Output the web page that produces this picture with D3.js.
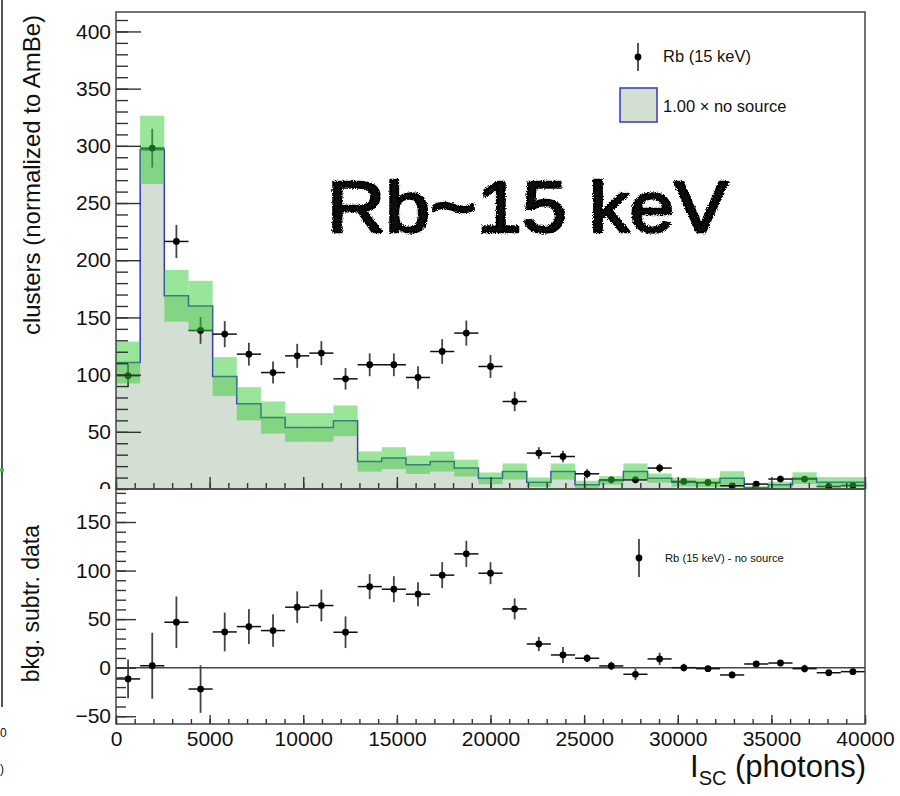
<!DOCTYPE html>
<html>
<head>
<meta charset="utf-8">
<script src="https://cdn.jsdelivr.net/npm/d3@7"></script>
<style>
  body { margin: 0; background: #fff; }
  text { font-family: "Liberation Sans", Arial, Helvetica, sans-serif; fill: #111; }
</style>
</head>
<body>
<div id="chart"></div>
<script>
// binning of I_SC (photons)
const xMin = 0, xMax = 40000, nBins = 31;

// no-source background (normalized), one value per bin, and half-width of its band
const bkg = [110.6, 296.5, 168.9, 160, 98.3, 74.5, 62.5, 53.8, 53.8, 59.6, 24, 27, 21.2, 24, 18.3,
             9.3, 15.3, 6, 15.3, 3.7, 7.5, 15.3, 9.5, 6, 5.5, 9.5, 1, 3.7, 9.5, 6, 6];
const bkgErr = [18.3, 29.8, 22.6, 22, 17, 14.5, 14, 12.5, 12.5, 13.4, 8.8, 9.5, 8, 8.7, 7.3,
                5.1, 7, 4.1, 7, 3.5, 3.7, 7, 4, 3.9, 3.8, 6, 1.5, 2.6, 5.1, 4.4, 4.4];

// Rb (15 keV) data
const rb = [99, 298, 216.4, 138.6, 135.4, 117.9, 101.8, 116.4, 118.8, 96.3, 108.6, 108.6, 97.5, 120.2, 136.3,
            107.1, 76.5, 31.4, 28.4, 13.3, 8, 8, 18.3, 6.6, 5.7, 2.8, 4.3, 8.7, 8.7, 2.2, 3];
const rbErr = [10, 17, 14.5, 11.7, 11.4, 10, 9.6, 10.5, 10.5, 9.5, 10, 10, 9.8, 10.8, 11,
               10, 8.5, 5.2, 5, 4, 3, 3, 3.8, 2, 2, 2, 2, 3, 2, 2, 2];

// background-subtracted data
const sub = [-11.6, 2, 46.8, -22, 36.8, 42.3, 38.2, 62.3, 64, 36.5, 83.5, 80.8, 75.7, 95.3, 117.2,
             97.3, 60.5, 24.4, 13.1, 9.7, 1.8, -6.8, 9, 0, -1, -7.5, 3.8, 4.8, -1, -5.2, -4.1];
const subErr = [20, 34, 26.6, 24.5, 20, 18, 16.7, 16.3, 16.3, 16.3, 12.9, 13.4, 12.4, 13.4, 13.6,
                11.3, 10.8, 7.2, 8.2, 4, 4.3, 6, 6.4, 4, 3, 3.5, 2, 2, 4, 2, 2.5];

const xTicks = [0, 5000, 10000, 15000, 20000, 25000, 30000, 35000, 40000];
const yTopTicks = [0, 50, 100, 150, 200, 250, 300, 350, 400];
const yBotTicks = [-50, 0, 50, 100, 150];

const W = 900, H = 796;
const L = 116, R = 865, T = 12, M = 489, B = 724;

const histFill = "#d2dfd2", histLine = "#3838c0", bandColor = "rgb(51,204,51)";

const svg = d3.select("#chart").append("svg")
    .attr("width", W)
    .attr("height", H);

const defs = svg.append("defs");
const rough = defs.append("filter").attr("id", "rough")
    .attr("x", "-5%").attr("y", "-10%").attr("width", "110%").attr("height", "120%");
rough.append("feTurbulence").attr("type", "fractalNoise")
    .attr("baseFrequency", 0.9).attr("numOctaves", 2).attr("result", "noise");
rough.append("feDisplacementMap").attr("in", "SourceGraphic").attr("in2", "noise")
    .attr("scale", 4).attr("xChannelSelector", "R").attr("yChannelSelector", "G");
// clip in the axis group's local coords (group is shifted by L)
defs.append("clipPath").attr("id", "topLabels")
    .append("rect").attr("x", -L).attr("y", 0).attr("width", L + 40).attr("height", M);

const x = d3.scaleLinear().domain([xMin, xMax]).range([L, R]);
const yTop = d3.scaleLinear().domain([0, 417]).range([M, T]);
const yBot = d3.scaleLinear().domain([-58, 184]).range([B, M]);

const bw = (xMax - xMin) / nBins;
const bins = d3.range(nBins).map(i => ({
    lo: xMin + i * bw, hi: xMin + (i + 1) * bw, c: xMin + (i + 0.5) * bw,
    bkg: bkg[i], bkgErr: bkgErr[i], rb: rb[i], rbErr: rbErr[i], sub: sub[i], subErr: subErr[i]
}));

// ---------- top panel ----------
const stepPts = bins.map(d => [d.lo, d.bkg]).concat([[xMax, bins[nBins - 1].bkg]]);

svg.append("path")
    .datum(stepPts)
    .attr("d", d3.area().curve(d3.curveStepAfter)
        .x(d => x(d[0])).y0(yTop(0)).y1(d => yTop(d[1])))
    .attr("fill", histFill);

svg.append("path")
    .datum(stepPts)
    .attr("d", d3.line().curve(d3.curveStepAfter).x(d => x(d[0])).y(d => yTop(d[1])))
    .attr("fill", "none")
    .attr("stroke", histLine)
    .attr("stroke-width", 1.5);

function drawPoints(g, yScale, key, errKey) {
    const pts = g.selectAll("g.pt").data(bins).join("g").attr("class", "pt");
    pts.append("line")
        .attr("x1", d => x(d.lo)).attr("x2", d => x(d.hi))
        .attr("y1", d => yScale(d[key])).attr("y2", d => yScale(d[key]))
        .attr("stroke", "#111").attr("stroke-width", 1.5);
    pts.append("line")
        .attr("x1", d => x(d.c)).attr("x2", d => x(d.c))
        .attr("y1", d => yScale(d[key] - d[errKey])).attr("y2", d => yScale(d[key] + d[errKey]))
        .attr("stroke", "#444").attr("stroke-width", 1.8);
    pts.append("circle")
        .attr("cx", d => x(d.c)).attr("cy", d => yScale(d[key]))
        .attr("r", 3.4).attr("fill", "#000");
}

drawPoints(svg.append("g"), yTop, "rb", "rbErr");

svg.append("g").selectAll("rect").data(bins).join("rect")
    .attr("x", d => x(d.lo))
    .attr("width", d => x(d.hi) - x(d.lo))
    .attr("y", d => yTop(d.bkg + d.bkgErr))
    .attr("height", d => yTop(Math.max(0, d.bkg - d.bkgErr)) - yTop(d.bkg + d.bkgErr))
    .attr("fill", bandColor)
    .attr("fill-opacity", 0.5);

// ---------- bottom panel ----------
svg.append("line")
    .attr("x1", L).attr("x2", R)
    .attr("y1", yBot(0)).attr("y2", yBot(0))
    .attr("stroke", "#444").attr("stroke-width", 1.5);

drawPoints(svg.append("g"), yBot, "sub", "subErr");

// ---------- axes ----------
function styleAxis(g, fs) {
    g.select(".domain").remove();
    g.selectAll(".tick line").attr("stroke", "#333").attr("stroke-width", 1.4);
    g.selectAll(".tick text").attr("font-size", fs).attr("fill", "#111");
}

// top panel y
svg.append("g").attr("transform", `translate(${L},0)`)
    .call(d3.axisLeft(yTop).tickValues(d3.range(0, 417, 10)).tickSize(-12).tickFormat(""))
    .call(g => styleAxis(g, 0));
svg.append("g").attr("transform", `translate(${L},0)`)
    .attr("clip-path", "url(#topLabels)")
    .call(d3.axisLeft(yTop).tickValues(yTopTicks).tickSize(-25).tickPadding(5))
    .call(g => styleAxis(g, 21));

// top panel x (ticks only)
svg.append("g").attr("transform", `translate(0,${M})`)
    .call(d3.axisBottom(x).tickValues(d3.range(0, 40001, 1000)).tickSize(-6).tickFormat(""))
    .call(g => styleAxis(g, 0));
svg.append("g").attr("transform", `translate(0,${M})`)
    .call(d3.axisBottom(x).tickValues(xTicks).tickSize(-12).tickFormat(""))
    .call(g => styleAxis(g, 0));

// bottom panel y
svg.append("g").attr("transform", `translate(${L},0)`)
    .call(d3.axisLeft(yBot).tickValues(d3.range(-50, 184, 10)).tickSize(-10).tickFormat(""))
    .call(g => styleAxis(g, 0));
svg.append("g").attr("transform", `translate(${L},0)`)
    .call(d3.axisLeft(yBot).tickValues(yBotTicks).tickSize(-20).tickPadding(5))
    .call(g => styleAxis(g, 21));

// bottom panel x
svg.append("g").attr("transform", `translate(0,${B})`)
    .call(d3.axisBottom(x).tickValues(d3.range(0, 40001, 1000)).tickSize(-5).tickFormat(""))
    .call(g => styleAxis(g, 0));
svg.append("g").attr("transform", `translate(0,${B})`)
    .call(d3.axisBottom(x).tickValues(xTicks).tickSize(-9).tickPadding(7).tickFormat(d3.format("d")))
    .call(g => styleAxis(g, 21));

// frames
svg.append("rect").attr("x", L).attr("y", T).attr("width", R - L).attr("height", M - T)
    .attr("fill", "none").attr("stroke", "#444").attr("stroke-width", 1.5);
svg.append("rect").attr("x", L).attr("y", M).attr("width", R - L).attr("height", B - M)
    .attr("fill", "none").attr("stroke", "#444").attr("stroke-width", 1.5);

// axis titles
svg.append("text")
    .attr("transform", "translate(40,15) rotate(-90)")
    .attr("text-anchor", "end")
    .attr("font-size", 24)
    .text("clusters (normalized to AmBe)");
svg.append("text")
    .attr("transform", "translate(39,525) rotate(-90)")
    .attr("text-anchor", "end")
    .attr("font-size", 23)
    .text("bkg. subtr. data");

const xt = svg.append("text")
    .attr("x", 866).attr("y", 777)
    .attr("text-anchor", "end")
    .attr("font-size", 31);
xt.append("tspan").text("I");
xt.append("tspan").attr("font-size", 20).attr("dy", 8).text("SC");
xt.append("tspan").attr("dy", -8).text(" (photons)");

// legends
const lg = svg.append("g");
lg.append("line").attr("x1", 638).attr("x2", 638).attr("y1", 43).attr("y2", 71)
    .attr("stroke", "#444").attr("stroke-width", 1.8);
lg.append("circle").attr("cx", 638).attr("cy", 57).attr("r", 3.4).attr("fill", "#000");
lg.append("text").attr("x", 663).attr("y", 62).attr("font-size", 16.5).text("Rb (15 keV)");
lg.append("rect").attr("x", 620).attr("y", 88).attr("width", 37).attr("height", 34)
    .attr("fill", histFill).attr("stroke", histLine).attr("stroke-width", 1.5);
lg.append("text").attr("x", 663).attr("y", 112).attr("font-size", 16.5).text("1.00 × no source");

lg.append("line").attr("x1", 639).attr("x2", 639).attr("y1", 539).attr("y2", 577)
    .attr("stroke", "#444").attr("stroke-width", 1.8);
lg.append("circle").attr("cx", 639).attr("cy", 558).attr("r", 3.4).attr("fill", "#000");
lg.append("text").attr("x", 665).attr("y", 562).attr("font-size", 11.2).text("Rb (15 keV) - no source");

// handwritten annotation (marker-pen look)
svg.append("text")
    .attr("x", 327).attr("y", 232)
    .attr("font-family", "DejaVu Sans")
    .attr("font-size", 72)
    .attr("textLength", 401)
    .attr("lengthAdjust", "spacingAndGlyphs")
    .attr("fill", "#000")
    .attr("stroke", "#000")
    .attr("stroke-width", 2.5)
    .attr("stroke-linejoin", "round")
    .attr("filter", "url(#rough)")
    .text("Rb~15 keV");

// remnants of the neighbouring panel at the left edge
svg.append("line").attr("x1", 2).attr("x2", 2).attr("y1", 0).attr("y2", 707)
    .attr("stroke", "#555").attr("stroke-width", 2);
svg.append("line").attr("x1", 0).attr("x2", 4).attr("y1", 470).attr("y2", 470)
    .attr("stroke", "#33cc33").attr("stroke-width", 3);
svg.append("text").attr("x", 0).attr("y", 737).attr("font-size", 12).text("0");
svg.append("text").attr("x", 0).attr("y", 773).attr("font-size", 12).text(")");
</script>
</body>
</html>
